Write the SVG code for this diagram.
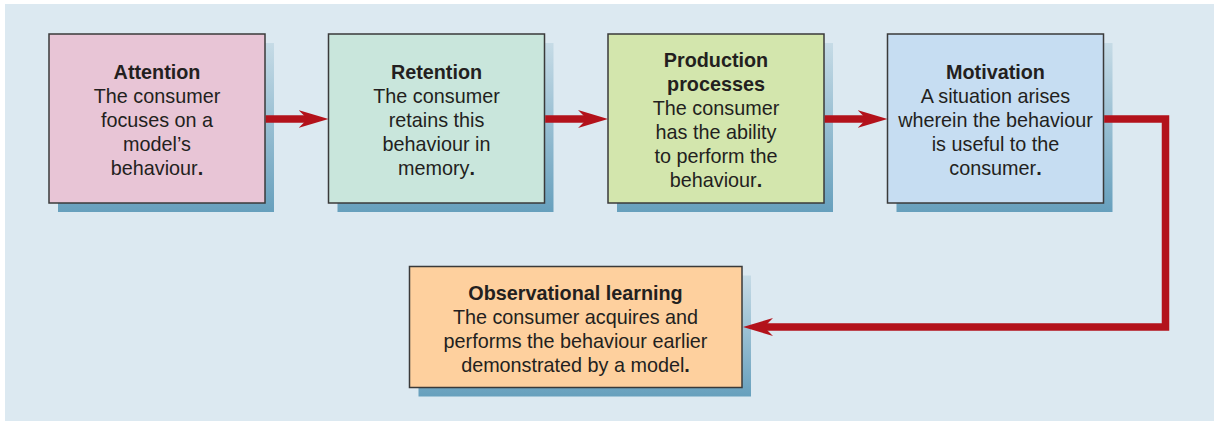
<svg xmlns="http://www.w3.org/2000/svg" width="1214" height="421" viewBox="0 0 1214 421">
<defs>
<style>
.box{stroke:#3a3a3a;stroke-width:1.5}
.shadow{fill:url(#sh)}
.t{font-family:"Liberation Sans",Arial,sans-serif;font-size:19.8px;fill:#231f20;text-anchor:middle}
.b{font-weight:bold}
.conn{fill:none;stroke:#b3121b;stroke-width:7.5;stroke-linejoin:miter}
</style>
<linearGradient id="sh" x1="0" y1="0" x2="0" y2="1">
<stop offset="0" stop-color="#c6dbe6"/>
<stop offset="1" stop-color="#67a0bd"/>
</linearGradient>
<marker id="ah" viewBox="0 0 30 20" refX="16" refY="10" markerWidth="30" markerHeight="20" markerUnits="userSpaceOnUse" orient="auto">
<path d="M30,10 L0,1 L9,10 L0,19 Z" fill="#b3121b"/>
</marker>
</defs>
<rect x="0" y="0" width="1214" height="421" fill="#ffffff"/>
<rect x="5" y="4" width="1209" height="417" fill="#dce9f1"/>

<g id="attention">
<rect class="shadow" x="58" y="43" width="216" height="169"/>
<rect class="box" x="49" y="34" width="216" height="169" fill="#e8c5d6"/>
<text class="t"><tspan class="b" x="157" y="79">Attention</tspan><tspan x="157" y="103">The consumer</tspan><tspan x="157" y="127">focuses on a</tspan><tspan x="157" y="151">model’s</tspan><tspan x="157" y="175">behaviour<tspan class="b">.</tspan></tspan></text>
</g>

<g id="retention">
<rect class="shadow" x="337.5" y="43" width="216" height="169"/>
<rect class="box" x="328.5" y="34" width="216" height="169" fill="#c9e6dc"/>
<text class="t"><tspan class="b" x="436.5" y="79">Retention</tspan><tspan x="436.5" y="103">The consumer</tspan><tspan x="436.5" y="127">retains this</tspan><tspan x="436.5" y="151">behaviour in</tspan><tspan x="436.5" y="175">memory<tspan class="b">.</tspan></tspan></text>
</g>

<g id="production">
<rect class="shadow" x="617" y="43" width="216" height="169"/>
<rect class="box" x="608" y="34" width="216" height="169" fill="#d3e6ad"/>
<text class="t"><tspan class="b" x="716" y="67">Production</tspan><tspan class="b" x="716" y="91">processes</tspan><tspan x="716" y="115">The consumer</tspan><tspan x="716" y="139">has the ability</tspan><tspan x="716" y="163">to perform the</tspan><tspan x="716" y="187">behaviour<tspan class="b">.</tspan></tspan></text>
</g>

<g id="motivation">
<rect class="shadow" x="896.5" y="43" width="216" height="169"/>
<rect class="box" x="887.5" y="34" width="216" height="169" fill="#c6ddf2"/>
<text class="t"><tspan class="b" x="995.5" y="79">Motivation</tspan><tspan x="995.5" y="103">A situation arises</tspan><tspan x="995.5" y="127">wherein the behaviour</tspan><tspan x="995.5" y="151">is useful to the</tspan><tspan x="995.5" y="175">consumer<tspan class="b">.</tspan></tspan></text>
</g>

<g id="observational-learning">
<rect class="shadow" x="418.5" y="275.5" width="332.5" height="121"/>
<rect class="box" x="409.5" y="266.5" width="332.5" height="121" fill="#fed09e"/>
<text class="t"><tspan class="b" x="575.5" y="300">Observational learning</tspan><tspan x="575.5" y="324">The consumer acquires and</tspan><tspan x="575.5" y="348">performs the behaviour earlier</tspan><tspan x="575.5" y="372">demonstrated by a model<tspan class="b">.</tspan></tspan></text>
</g>

<g id="connectors">
<path class="conn" d="M265.7,119 H314.5" marker-end="url(#ah)"/>
<path class="conn" d="M545.2,119 H594" marker-end="url(#ah)"/>
<path class="conn" d="M824.7,119 H873.5" marker-end="url(#ah)"/>
<path class="conn" d="M1104.2,119 H1165.5 V327 H757" marker-end="url(#ah)"/>
</g>
</svg>
